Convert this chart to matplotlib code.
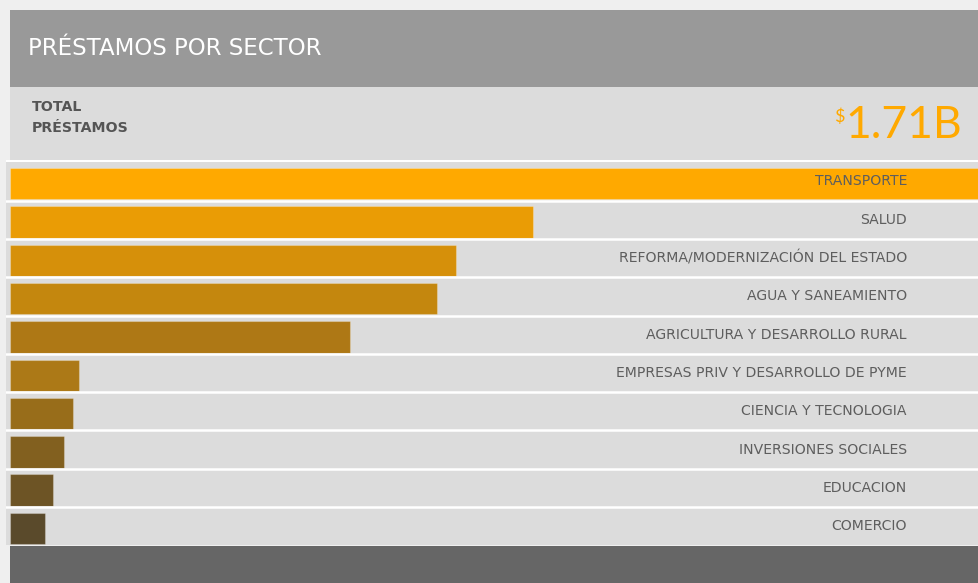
import numpy as np
import matplotlib
matplotlib.use("Agg")
import matplotlib.pyplot as plt

W, H = 979, 583

sectores = [
    "TRANSPORTE",
    "SALUD",
    "REFORMA/MODERNIZACIÓN DEL ESTADO",
    "AGUA Y SANEAMIENTO",
    "AGRICULTURA Y DESARROLLO RURAL",
    "EMPRESAS PRIV Y DESARROLLO DE PYME",
    "CIENCIA Y TECNOLOGIA",
    "INVERSIONES SOCIALES",
    "EDUCACION",
    "COMERCIO",
]
# millones USD (estimado)
montos = [558, 301, 257, 246, 196, 40, 36, 31, 25, 20]
colores = ["#FFA900", "#EA9C05", "#D6900A", "#C4870E", "#AE7815",
           "#AC7917", "#986D1A", "#82601F", "#6D5425", "#5A4A2B"]
total_txt = "1.71B"

plt.rcParams['font.family'] = ['DejaVu Sans']

fig = plt.figure(figsize=(W / 100, H / 100), dpi=100)
fig.patch.set_facecolor("#efefef")


def px_axes(x0, y0, x1, y1, color):
    # coordenadas en pixeles, y desde arriba
    a = fig.add_axes([x0 / W, 1 - y1 / H, (x1 - x0) / W, (y1 - y0) / H])
    a.set_facecolor(color)
    a.set_xticks([]); a.set_yticks([])
    for s in a.spines.values():
        s.set_visible(False)
    return a


# cabecera
ax_h = px_axes(10, 10, W, 87, "#999999")
ax_h.text(18 / (W - 10), 0.5, "PRÉSTAMOS POR SECTOR", color="white",
          fontsize=16.5, va="center", ha="left", transform=ax_h.transAxes)

# total
ax_t = px_axes(10, 87, W, 160, "#dcdcdc")
ax_t.text(22 / (W - 10), 0.72, "TOTAL", color="#555555", fontsize=10.2,
          fontweight="bold", va="center", ha="left", transform=ax_t.transAxes)
ax_t.text(22 / (W - 10), 0.44, "PRÉSTAMOS", color="#555555", fontsize=10.2,
          fontweight="bold", va="center", ha="left", transform=ax_t.transAxes)
num = ax_t.text(0.983, 0.47, total_txt, color="#FFA900", fontsize=32,
                family="Lato", va="center", ha="right", transform=ax_t.transAxes)

# barras
n = len(sectores)
ax = px_axes(6, 162.3, W, 545.3, "#dcdcdc")
pos = np.arange(n)
x_off = montos[0] * 4 / 969
ax.barh(pos + 0.56, montos, left=x_off, height=0.82, color=colores,
        edgecolor=[(1, 1, 1, 0.25)] * n, linewidth=0.8)
ax.set_xlim(0, montos[0] * 973 / 969)
ax.set_ylim(n, 0)
for i in range(1, n):
    ax.axhline(i, color="white", lw=1.8)
for i, lab in enumerate(sectores):
    ax.text((907 - 6) / (W - 6), i + 0.5, lab, color="#5e5e5e",
            fontsize=10.1, ha="right", va="center",
            transform=ax.get_yaxis_transform())

# franja blanca y pie
px_axes(6, 160, W, 162.3, "white")
px_axes(10, 546, W, H, "#666666")

# signo $ pegado a la cifra
fig.canvas.draw()
bb = num.get_window_extent()
ax_t.text(bb.x0 - 1, bb.y1 - 3, "$", color="#FFA900", fontsize=13,
          family="Lato", va="top", ha="right", transform=None)

fig.savefig("out.png", dpi=100, facecolor=fig.get_facecolor())
